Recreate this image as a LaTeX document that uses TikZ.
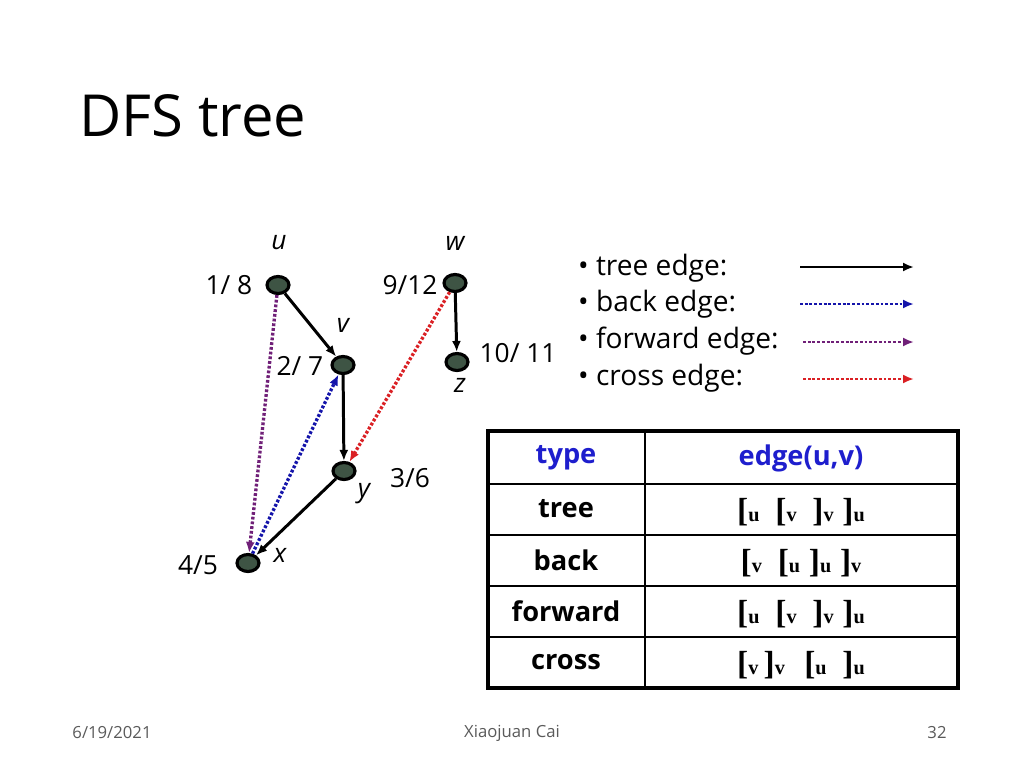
\documentclass[tikz,border=0pt]{standalone}
\usepackage{fontspec}
\setmainfont{Open Sans}
\newfontfamily\bracketfont{Liberation Serif}
\usetikzlibrary{arrows.meta}
\usetikzlibrary{shapes.geometric}

\definecolor{vertgreen}{RGB}{62,84,68}
\definecolor{fwdpurple}{RGB}{112,32,120}
\definecolor{backblue}{RGB}{20,20,170}
\definecolor{crossred}{RGB}{218,32,36}
\definecolor{headblue}{RGB}{30,30,205}
\definecolor{footgray}{RGB}{90,90,90}

% bracket with a small letter after it, as in [u
\newcommand{\brk}[2]{{\bracketfont\bfseries\fontsize{19}{19}\selectfont #1}{\bracketfont\bfseries\fontsize{11.5}{11.5}\selectfont #2}}

\begin{document}
\begin{tikzpicture}[
    x=0.02cm, y=-0.02cm,
    every node/.style={font=\fontsize{15}{18}\selectfont},
    vert/.style={ellipse, draw=black, line width=1.8pt, fill=vertgreen, minimum width=0.44cm, minimum height=0.34cm, inner sep=0pt},
    lbl/.style={font=\fontsize{15}{18}\selectfont\itshape},
    tip/.style={-{Latex[length=2.2mm,width=1.8mm]}},
    treeedge/.style={tip, line width=1.7pt},
    dotedge/.style={tip, line width=1.9pt, dash pattern=on 1.6pt off 1.1pt},
    backedge/.style={dotedge, backblue},
    fwdedge/.style={dotedge, fwdpurple},
    crossedge/.style={dotedge, crossred},
    cell/.style={font=\fontsize{15.5}{18}\selectfont\bfseries},
    legend/.style={anchor=west, font=\fontsize{16}{19}\selectfont},
    foot/.style={font=\fontsize{9.5}{11}\selectfont, text=footgray}
]
\useasboundingbox (0,0) rectangle (1024,768);

% Title
\node[anchor=west, font=\fontsize{33}{38}\selectfont] (title) at (73,116) {DFS tree};

% Vertices of the graph
\node[vert] (u) at (278,285) {};
\node[vert] (w) at (455,283) {};
\node[vert] (v) at (343,365) {};
\node[vert] (z) at (457,362) {};
\node[vert] (y) at (344,471) {};
\node[vert] (x) at (248,563) {};

% Vertex names
\node[lbl] (un) at (279,243) {u};
\node[lbl] (wn) at (455,243) {w};
\node[lbl] (vn) at (343,325) {v};
\node[lbl] (zn) at (460,385) {z};
\node[lbl] (yn) at (364,494) {y};
\node[lbl] (xn) at (280,555) {x};

% Discovery / finish times
\node (tu) at (229,285) {1/ 8};
\node (tw) at (410,285) {9/12};
\node (tv) at (300,366) {2/ 7};
\node (tz) at (518,353) {10/ 11};
\node (ty) at (410,478) {3/6};
\node (tx) at (198,565) {4/5};

% Edges
\draw[treeedge] (u) -- (v);
\draw[treeedge] (v) -- (y);
\draw[treeedge] (y) -- (x);
\draw[treeedge] (w) -- (z);
\draw[fwdedge] (u) -- (x);
\draw[backedge] (x) -- (v);
\draw[crossedge] (w) -- (y);

% Legend
\node[legend] (l1) at (572,268) {\textbullet\ tree edge:};
\node[legend] (l2) at (572,304) {\textbullet\ back edge:};
\node[legend] (l3) at (572,341) {\textbullet\ forward edge:};
\node[legend] (l4) at (572,378) {\textbullet\ cross edge:};
\coordinate (a1) at (800,267); \coordinate (b1) at (914,267);
\coordinate (a2) at (800,304); \coordinate (b2) at (914,304);
\coordinate (a3) at (803,342); \coordinate (b3) at (914,342);
\coordinate (a4) at (803,379); \coordinate (b4) at (914,379);
\draw[treeedge, line width=1.4pt] (a1) -- (b1);
\draw[backedge, line width=1.6pt] (a2) -- (b2);
\draw[fwdedge, line width=1.6pt] (a3) -- (b3);
\draw[crossedge, line width=1.6pt] (a4) -- (b4);

% Table
\draw[line width=1.8pt] (488,431) rectangle (958,688);
\draw[line width=1.6pt] (645,431) -- (645,688);
\foreach \ry in {484,535,586,637}
  \draw[line width=1.6pt] (488,\ry) -- (958,\ry);

\node[cell, text=headblue] (h1) at (566,458) {type};
\node[cell, text=headblue] (h2) at (801,458) {edge(u,v)};
\node[cell] (r1) at (566,509) {tree};
\node[cell] (r2) at (566,560) {back};
\node[cell] (r3) at (566,611) {forward};
\node[cell] (r4) at (566,662) {cross};
\node (e1) at (801,512) {\brk{[}{u}\hspace{9pt}\brk{[}{v}\hspace{9pt}\brk{]}{v}\hspace{5pt}\brk{]}{u}};
\node (e2) at (801,563) {\brk{[}{v}\hspace{9pt}\brk{[}{u}\hspace{5pt}\brk{]}{u}\hspace{5pt}\brk{]}{v}};
\node (e3) at (801,614) {\brk{[}{u}\hspace{9pt}\brk{[}{v}\hspace{9pt}\brk{]}{v}\hspace{5pt}\brk{]}{u}};
\node (e4) at (801,665) {\brk{[}{v}\hspace{3pt}\brk{]}{v}\hspace{11pt}\brk{[}{u}\hspace{9pt}\brk{]}{u}};

% Footer
\node[foot] (date) at (112,733) {6/19/2021};
\node[foot] (author) at (512,733) {Xiaojuan Cai};
\node[foot] (page) at (937,733) {32};

\end{tikzpicture}
\end{document}
